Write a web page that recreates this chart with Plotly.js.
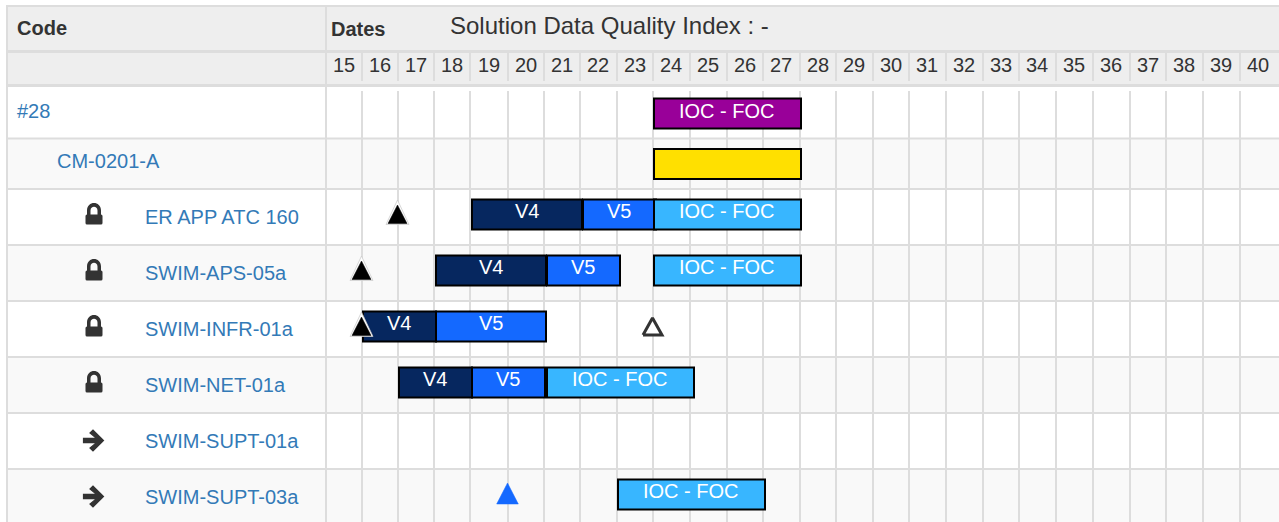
<!DOCTYPE html>
<html><head><meta charset="utf-8">
<script src="https://cdn.plot.ly/plotly-3.0.1.min.js"></script>
<style>html,body{margin:0;padding:0;background:#fff;overflow:hidden}#c{width:1279px;height:522px}</style>
</head><body><div id="c"></div>
<script>
// ---- data
const weekLabels = [15,16,17,18,19,20,21,22,23,24,25,26,27,28,29,30,31,32,33,34,35,36,37,38,39,40];
const rowCodes  = ['#28','CM-0201-A','ER APP ATC 160','SWIM-APS-05a','SWIM-INFR-01a','SWIM-NET-01a','SWIM-SUPT-01a','SWIM-SUPT-03a'];
const rowLevels = [0,1,2,2,2,2,2,2];
const rowIcons  = ['','','lock','lock','lock','lock','arrow','arrow'];
const barRows   = [0,1,2,2,2,3,3,3,4,4,5,5,5,7];
const barStarts = [24,24,19,22,24,18,21,24,16,18,17,19,21,23];
const barWeeks  = [4,4,3,2,4,3,2,4,2,3,2,2,4,4];
const barPhases = ['purple','gold','V4','V5','IOC','V4','V5','IOC','V4','V5','V4','V5','IOC','IOC'];
const phaseLabels = {purple:'IOC - FOC',gold:'',V4:'V4',V5:'V5',IOC:'IOC - FOC'};
const solidRows = [2,3,4];
const solidWeeks= [17,16,16];
const openRows  = [4];
const openWeeks = [24];
const blueRows  = [7];
const blueWeeks = [20];

// ---- layout geometry and styles
const W=1279,H=522;
const colEdges=[326,362,398,434,470,508,544,580,617,653,690,727,763,800,836,873,909,946,983,1019,1056,1093,1130,1166,1203,1240,1277];
const rowEdges=[88,138.5,189,245,301,357,413,469,525];
const phaseColors={purple:'#990099',gold:'#ffe000',V4:'#06275f',V5:'#1469ff',IOC:'#38b6ff'};
const FONT='"Liberation Sans", Arial, sans-serif';
const LINE='#dddddd',BAND='#eeeeee',ALT='#f9f9f9',LINK='#337ab7',TEXT='#333333';
const WEEK_PX=37;
const barNudge={16:1,17:1,18:2,19:2,21:3,22:3,23:1,24:1};
const edge=w=>colEdges[w-15];
const rowTop=r=>rowEdges[r];

const shapes=[],annotations=[];
const rect=(x0,y0,x1,y1,c)=>shapes.push({type:'rect',xref:'x',yref:'y',x0,y0,x1,y1,fillcolor:c,line:{width:0},layer:'below'});
const label=(x,y,text,size,color,anchor,bold)=>annotations.push({xref:'x',yref:'y',x,y,text:bold?'<b>'+text+'</b>':text,showarrow:false,
  xanchor:anchor,yanchor:'middle',borderpad:0,borderwidth:0,font:{family:FONT,size,color}});

// header bands
rect(6,5,W,87,LINE);
rect(8,7,W,50,BAND);
rect(8,53,W,84,BAND);
// row stripes and separators
rowCodes.forEach((c,r)=>{
  if(r%2) rect(8,rowEdges[r],W,rowEdges[r+1],ALT);
  if(r>0) rect(6,rowEdges[r]-1,W,rowEdges[r]+1,LINE);
});
rect(6,87,8,H,LINE);
// vertical lines
rect(325,7,327,H,LINE);
colEdges.slice(1,-1).forEach(x=>{
  rect(x-1,53,x+1,81,LINE);
  rowCodes.forEach((c,r)=>rect(x-1,r===0?91:rowEdges[r],x+1,rowEdges[r+1],LINE));
});
rowCodes.forEach((c,r)=>rect(325,rowEdges[r],327,rowEdges[r+1],LINE));

// headers
label(17,28,'Code',20,TEXT,'left',true);
label(331,29,'Dates',20,TEXT,'left',true);
label(450,25,'Solution Data Quality Index : -',24,TEXT,'left',false);
weekLabels.forEach((w,i)=>label((colEdges[i]+colEdges[i+1])/2-0.5,64.5,String(w),20,TEXT,'center',false));

// row labels
const labelOffset=[23,22.5,27.5,27.5,27.5,27.5,27.5,27.5];
const indent=[17,57,145];
rowCodes.forEach((c,r)=>label(indent[rowLevels[r]],rowTop(r)+labelOffset[r],c,20,LINK,'left',false));

// icons
const lockPath=(cx,cy)=>{const l=cx-8.5,r=cx+8.5,t=cy+0.5,b=cy+10.5;
  return `M${l+1.5},${t} H${r-1.5} Q${r},${t} ${r},${t+1.5} V${b-1.5} Q${r},${b} ${r-1.5},${b} H${l+1.5} Q${l},${b} ${l},${b-1.5} V${t+1.5} Q${l},${t} ${l+1.5},${t} Z `+
  `M${cx-7},${t} V${cy-3.5} C${cx-7},${cy-13.5} ${cx+7},${cy-13.5} ${cx+7},${cy-3.5} V${t} H${cx+3.5} V${cy-3.5} C${cx+3.5},${cy-8.5} ${cx-3.5},${cy-8.5} ${cx-3.5},${cy-3.5} V${t} Z`;};
const arrowPath=(cx,cy)=>`M${cx-10},${cy-2.2} H${cx+3} L${cx-3.5},${cy-7.5} L${cx-0.5},${cy-10.5} L${cx+10},${cy} L${cx-0.5},${cy+10.5} L${cx-3.5},${cy+7.5} L${cx+3},${cy+2.2} H${cx-10} Z`;
rowIcons.forEach((k,r)=>{ if(!k) return;
  const cy=rowTop(r)+(k==='lock'?25:27.5);
  shapes.push({type:'path',xref:'x',yref:'y',path:k==='lock'?lockPath(94,cy):arrowPath(93.5,cy),fillcolor:TEXT,line:{color:TEXT,width:k==='lock'?0:1.2},layer:'above'});
});

// bars: each starts at its column edge and runs WEEK_PX per week; later bars cover earlier ones
const barX0=barStarts.map(w=>edge(w)+barNudge[w]);
const barLen=barWeeks.map(n=>n*WEEK_PX-1);
const barY=barRows.map(r=>rowTop(r)+25.5);
const barTrace={type:'bar',orientation:'h',base:barX0,x:barLen,y:barY,width:barRows.map(()=>30),
  marker:{color:barPhases.map(p=>phaseColors[p]),line:{color:'#000000',width:2}},hoverinfo:'skip',showlegend:false};
barPhases.forEach((p,i)=>{ if(phaseLabels[p]) label(barX0[i]+barLen[i]/2-0.5,rowTop(barRows[i])+(barRows[i]<2?22.5:21.5),phaseLabels[p],20,'#ffffff','center',false); });

// triangles
const tri=(rows,weeks,hw,top,bot)=>{const x=[],y=[];rows.forEach((r,i)=>{const cx=edge(weeks[i])-0.5,t=rowTop(r);
  x.push(cx-hw,cx+hw,cx,cx-hw,null);y.push(t+bot,t+bot,t+top,t+bot,null);});return {x,y};};
const triTrace=(t,fill,lc,lw)=>({type:'scatter',mode:'lines',fill:'toself',fillcolor:fill,x:t.x,y:t.y,line:{color:lc,width:lw},hoverinfo:'skip',showlegend:false});
const traces=[barTrace,
  triTrace(tri(solidRows,solidWeeks,11.5,11,35.5),'#ffffff','rgba(200,200,200,0.7)',1),
  triTrace(tri(solidRows,solidWeeks,9.5,16,34.5),'#000000','#000000',0.5),
  triTrace(tri(openRows,openWeeks,9.5,17,34),'#ffffff','#333333',3),
  triTrace(tri(blueRows,blueWeeks,10.8,14,35),'#1469ff','#1469ff',0.5)];

Plotly.newPlot('c',traces,{
  width:W,height:H,margin:{l:0,r:0,t:0,b:0},paper_bgcolor:'#ffffff',plot_bgcolor:'#ffffff',showlegend:false,barmode:'overlay',
  xaxis:{range:[0,W],visible:false,fixedrange:true},
  yaxis:{range:[H,0],visible:false,fixedrange:true},
  shapes,annotations
},{displayModeBar:false,staticPlot:true});
</script></body></html>
